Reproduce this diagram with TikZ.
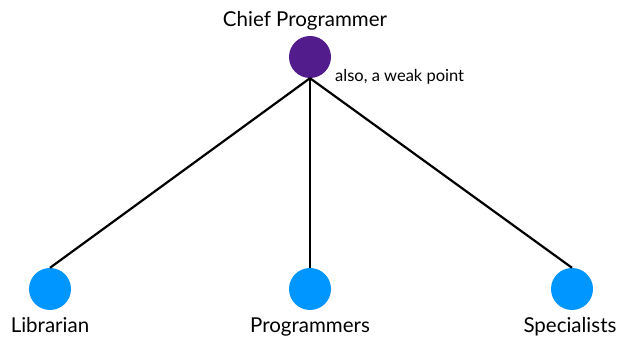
\documentclass[tikz,border=0pt]{standalone}
\usepackage{fontspec}
\setmainfont{Lato}
\definecolor{chiefpurple}{RGB}{82,28,140}
\definecolor{memberblue}{RGB}{0,150,255}
\begin{document}
\begin{tikzpicture}[x=1pt,y=1pt,
  chief/.style={circle,fill=chiefpurple,minimum size=42pt,inner sep=0pt},
  member/.style={circle,fill=memberblue,minimum size=42pt,inner sep=0pt},
  biglabel/.style={inner sep=0pt,anchor=base,font=\fontsize{20.5}{24}\selectfont},
  smalllabel/.style={inner sep=0pt,anchor=base west,font=\fontsize{16.5}{19}\selectfont},
  link/.style={draw=black,line width=2.2pt}]
\useasboundingbox (0,0) rectangle (618,344);
\node[chief] (cp) at (310,287) {};
\node[member] (lib) at (50,55) {};
\node[member] (prog) at (310,55) {};
\node[member] (spec) at (572,55) {};
\node[biglabel] (cpl) at (305,317) {Chief Programmer};
\node[smalllabel] (weak) at (335,262) {also, a weak point};
\node[biglabel] (libl) at (50,11) {Librarian};
\node[biglabel] (progl) at (310,11) {Programmers};
\node[biglabel] (specl) at (570,11) {Specialists};
\draw[link] (cp.south) -- (lib.north);
\draw[link] (cp.south) -- (prog.north);
\draw[link] (cp.south) -- (spec.north);
\end{tikzpicture}
\end{document}
